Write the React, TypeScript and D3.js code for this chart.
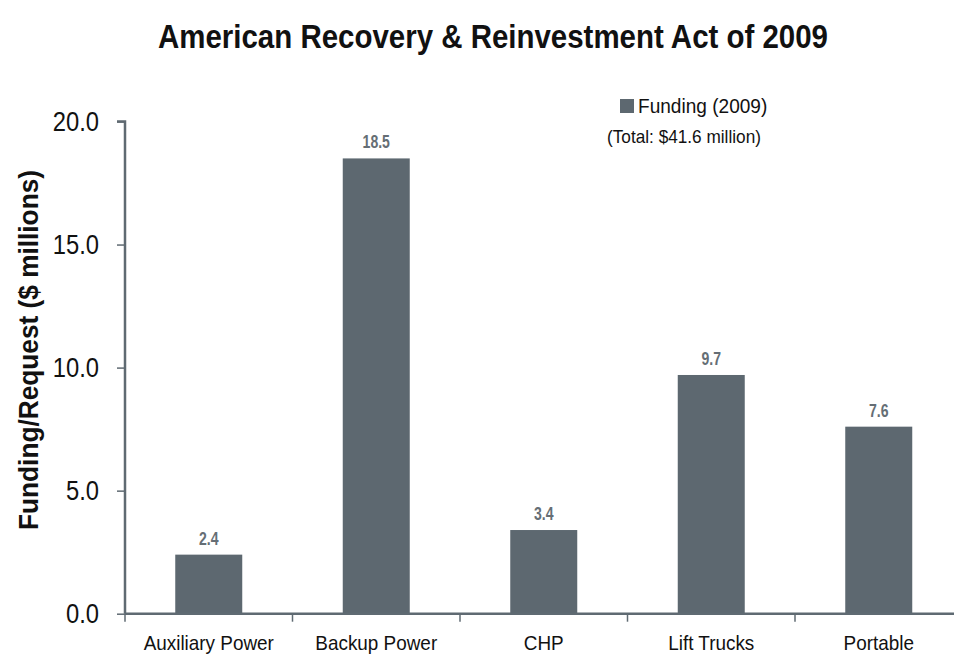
import { useEffect, useRef } from "react";
import * as d3 from "d3";

const categories = ["Auxiliary Power", "Backup Power", "CHP", "Lift Trucks", "Portable"];
const funding = [2.4, 18.5, 3.4, 9.7, 7.6];
const yTicks = [0, 5, 10, 15, 20];

const FONT = "'Liberation Sans', Arial, sans-serif";
const BAR = "#5d6870";
const AXIS = "#5f6a72";

// squeeze a text node horizontally to mimic the narrow face of the original
const condense = (node: SVGTextElement | null, factor: number) => {
  if (!node) return;
  const w = node.getComputedTextLength();
  node.setAttribute("textLength", String(w * factor));
  node.setAttribute("lengthAdjust", "spacingAndGlyphs");
};

const FundingChart = () => {
  const chartContainer = useRef<HTMLDivElement>(null);

  useEffect(() => {
    const W = 954;
    const H = 655;
    const margin = { top: 121.5, left: 125 };
    const height = 613.7 - margin.top;
    const bandW = 167.5;
    const width = bandW * categories.length;

    d3.select(chartContainer.current).selectAll("*").remove();

    const root = d3
      .select(chartContainer.current)
      .append("svg")
      .attr("width", W)
      .attr("height", H)
      .style("display", "block")
      .style("font-family", FONT);

    const title = root
      .append("text")
      .attr("x", 493)
      .attr("y", 48)
      .attr("text-anchor", "middle")
      .attr("font-size", 33)
      .attr("font-weight", "bold")
      .attr("fill", "#111")
      .text("American Recovery & Reinvestment Act of 2009");
    title.attr("textLength", 670).attr("lengthAdjust", "spacingAndGlyphs");

    const ylab = root
      .append("text")
      .attr("transform", `translate(38,${350}) rotate(-90)`)
      .attr("text-anchor", "middle")
      .attr("font-size", 28)
      .attr("font-weight", "bold")
      .attr("fill", "#111")
      .text("Funding/Request ($ millions)");
    ylab.attr("textLength", 360).attr("lengthAdjust", "spacingAndGlyphs");

    const x = d3.scaleBand().range([0, width]).domain(categories);
    const y = d3.scaleLinear().range([height, 0]).domain([0, 20]);
    const barW = bandW * 0.4;

    const svg = root.append("g").attr("transform", `translate(${margin.left},${margin.top})`);

    svg
      .selectAll(".bar")
      .data(funding)
      .enter()
      .append("rect")
      .attr("class", "bar")
      .attr("x", (_d, i) => (x(categories[i]) || 0) + x.bandwidth() / 2 - barW / 2)
      .attr("y", (d) => y(d))
      .attr("width", barW)
      .attr("height", (d) => height - y(d))
      .attr("fill", BAR);

    svg
      .selectAll(".val")
      .data(funding)
      .enter()
      .append("text")
      .attr("class", "val")
      .attr("x", (_d, i) => (x(categories[i]) || 0) + x.bandwidth() / 2)
      .attr("y", (d) => y(d) - 10)
      .attr("text-anchor", "middle")
      .attr("font-size", 18.5)
      .attr("font-weight", "bold")
      .attr("fill", "#656e75")
      .text((d) => d.toFixed(1))
      .each(function () {
        condense(this as SVGTextElement, 0.76);
      });

    // y axis
    const yAxis = svg
      .append("g")
      .call(d3.axisLeft(y).tickValues(yTicks).tickSize(8).tickFormat((d) => (d as number).toFixed(1)));
    yAxis.select(".domain").attr("stroke", AXIS).attr("stroke-width", 2.5).attr("d", `M-8,0H0V${height}`);
    yAxis.selectAll(".tick line").attr("stroke", AXIS).attr("stroke-width", 1.5);
    yAxis
      .selectAll(".tick text")
      .attr("x", -26)
      .attr("font-size", 27)
      .attr("font-family", FONT)
      .attr("fill", "#111")
      .each(function () {
        condense(this as SVGTextElement, 0.88);
      });

    // x axis
    const xAxisG = svg.append("g").attr("transform", `translate(0,${height})`);
    xAxisG
      .append("line")
      .attr("x1", 0)
      .attr("x2", width)
      .attr("stroke", AXIS)
      .attr("stroke-width", 2.5);
    xAxisG
      .selectAll(".xt")
      .data(categories)
      .enter()
      .append("line")
      .attr("x1", (d) => x(d) || 0)
      .attr("x2", (d) => x(d) || 0)
      .attr("y1", 0)
      .attr("y2", 8)
      .attr("stroke", AXIS)
      .attr("stroke-width", 1.5);
    xAxisG
      .selectAll(".xl")
      .data(categories)
      .enter()
      .append("text")
      .attr("x", (d) => (x(d) || 0) + x.bandwidth() / 2)
      .attr("y", 36)
      .attr("text-anchor", "middle")
      .attr("font-size", 21)
      .attr("fill", "#111")
      .text((d) => d)
      .each(function () {
        condense(this as SVGTextElement, 0.9);
      });

    // legend
    root.append("rect").attr("x", 620).attr("y", 99).attr("width", 14).attr("height", 14).attr("fill", BAR);
    root
      .append("text")
      .attr("x", 638)
      .attr("y", 113)
      .attr("font-size", 20.5)
      .attr("fill", "#111")
      .text("Funding (2009)")
      .each(function () {
        condense(this as SVGTextElement, 0.93);
      });
    root
      .append("text")
      .attr("x", 607)
      .attr("y", 143)
      .attr("font-size", 18.5)
      .attr("fill", "#111")
      .text("(Total: $41.6 million)")
      .each(function () {
        condense(this as SVGTextElement, 0.93);
      });
  }, []);

  return <div ref={chartContainer}></div>;
};

export default function App() {
  return (
    <div style={{ position: "absolute", left: 0, top: 0 }}>
      <FundingChart />
    </div>
  );
}
